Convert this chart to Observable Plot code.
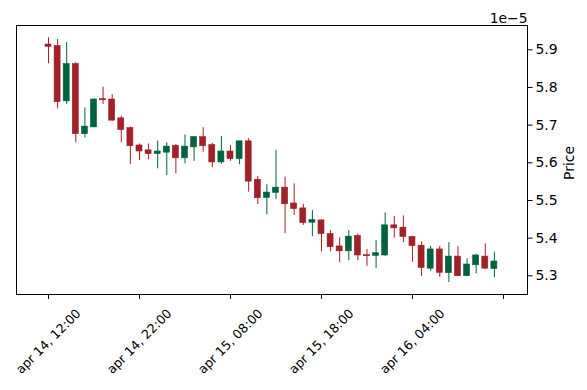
<!DOCTYPE html>
<html>
<head>
<meta charset="utf-8">
<script src="https://cdn.jsdelivr.net/npm/d3@7"></script>
<script src="https://cdn.jsdelivr.net/npm/@observablehq/plot@0.6"></script>
<style>
  html, body { margin: 0; padding: 0; background: #fff; }
  #chart svg { display: block; }
</style>
</head>
<body>
<div id="chart"></div>
<script>
// Hourly candles, prices in units of 1e-5
const opens  = [5.914,5.910,5.763,5.862,5.676,5.694,5.769,5.768,5.718,5.692,
                5.646,5.633,5.623,5.627,5.645,5.612,5.641,5.668,5.647,5.601,
                5.630,5.610,5.657,5.555,5.507,5.520,5.534,5.492,5.479,5.441,
                5.447,5.411,5.378,5.365,5.406,5.355,5.353,5.354,5.434,5.428,
                5.403,5.380,5.319,5.370,5.307,5.351,5.299,5.328,5.351,5.318];
const highs  = [5.932,5.927,5.919,5.866,5.746,5.770,5.801,5.781,5.723,5.695,
                5.650,5.650,5.658,5.653,5.649,5.674,5.670,5.693,5.652,5.670,
                5.646,5.657,5.664,5.564,5.542,5.633,5.562,5.544,5.490,5.473,
                5.449,5.420,5.401,5.420,5.411,5.370,5.393,5.467,5.458,5.459,
                5.405,5.390,5.378,5.378,5.388,5.377,5.345,5.357,5.385,5.363];
const lows   = [5.863,5.743,5.755,5.653,5.666,5.693,5.755,5.710,5.653,5.596,
                5.606,5.608,5.584,5.566,5.571,5.597,5.604,5.628,5.587,5.596,
                5.604,5.595,5.522,5.489,5.462,5.502,5.412,5.460,5.434,5.404,
                5.363,5.364,5.335,5.340,5.340,5.325,5.319,5.351,5.400,5.388,
                5.336,5.298,5.312,5.296,5.282,5.298,5.298,5.305,5.317,5.295];
const closes = [5.908,5.761,5.862,5.676,5.696,5.768,5.766,5.712,5.687,5.644,
                5.630,5.623,5.630,5.643,5.612,5.643,5.668,5.644,5.601,5.630,
                5.610,5.657,5.550,5.506,5.521,5.534,5.490,5.477,5.440,5.448,
                5.411,5.376,5.365,5.404,5.354,5.352,5.360,5.434,5.426,5.403,
                5.379,5.321,5.370,5.308,5.351,5.299,5.330,5.354,5.319,5.338];

const xTickIdx    = [0, 10, 20, 30, 40, 50];
const xTickLabels = ["apr 14, 12:00", "apr 14, 22:00", "apr 15, 08:00",
                     "apr 15, 18:00", "apr 16, 04:00", ""];
const yTicks      = [5.3, 5.4, 5.5, 5.6, 5.7, 5.8, 5.9];

const UP = "#006340", DOWN = "#A02128";
const data = opens.map((o, i) => ({
  i, open: o, high: highs[i], low: lows[i], close: closes[i],
  color: closes[i] >= o ? UP : DOWN
}));

const half = 0.33;
const chart = Plot.plot({
  width: 587,
  height: 390,
  marginTop: 25,
  marginBottom: 96,
  marginLeft: 16,
  marginRight: 60,
  style: {fontFamily: "DejaVu Sans", fontSize: "13.9px", background: "white", overflow: "visible"},
  x: {domain: [-3.516, 52.64], axis: null},
  y: {domain: [5.2504, 5.9645], axis: null},
  marks: [
    Plot.ruleX(data, {x: "i", y1: "low", y2: "high", stroke: "color", strokeWidth: 1}),
    Plot.rect(data, {x1: d => d.i - half, x2: d => d.i + half, y1: "open", y2: "close",
                     fill: "color", stroke: "color", strokeWidth: 0.6}),
    Plot.frame({stroke: "black", strokeWidth: 1}),
    Plot.axisY({anchor: "right", ticks: yTicks, tickFormat: d3.format(".1f"),
                tickSize: 4.5, tickPadding: 3.5, label: null, fontSize: 13.9, stroke: "black", fill: "black"}),
    Plot.axisX({anchor: "bottom", ticks: xTickIdx, tickFormat: () => "", tickSize: 4.9,
                label: null, stroke: "black"}),
    Plot.text(xTickIdx, {x: d => d, text: (d, i) => xTickLabels[i], frameAnchor: "bottom",
                         rotate: -45, textAnchor: "middle", lineAnchor: "middle",
                         dy: 47, fontSize: 12.6, fill: "black"}),
    Plot.text(["Price"], {frameAnchor: "right", dx: 42.5, dy: 3, rotate: -90, textAnchor: "middle",
                          lineAnchor: "middle", fontSize: 13.9, fill: "black"}),
    Plot.text(["1e\u22125"], {frameAnchor: "top-right", dy: -3, textAnchor: "end",
                              lineAnchor: "bottom", fontSize: 13.9, fill: "black"})
  ]
});
document.getElementById("chart").appendChild(chart);
</script>
</body>
</html>
